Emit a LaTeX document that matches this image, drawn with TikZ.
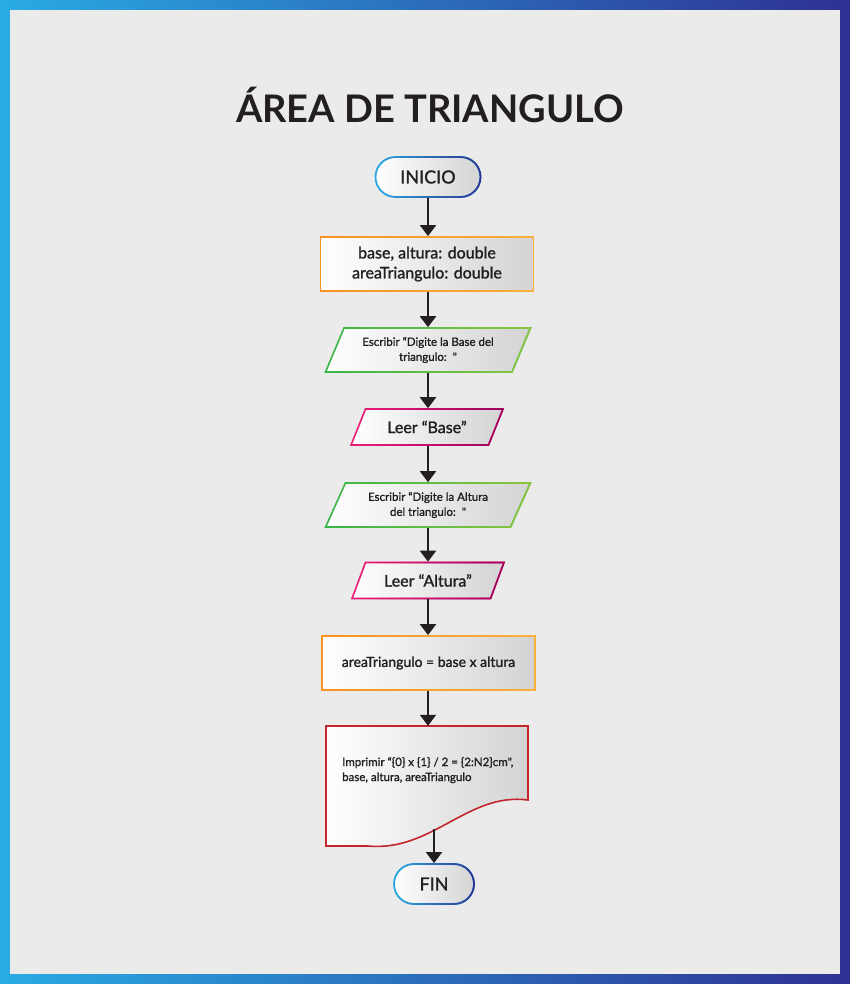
\documentclass[tikz,border=0pt]{standalone}
\usepackage{fontspec}
\setmainfont{Lato}
\newfontface\medfont{Lato}[FakeBold=1.4]
\usetikzlibrary{arrows.meta,shapes.geometric,fadings}
\definecolor{frameL}{HTML}{29ABE2}
\definecolor{frameR}{HTML}{2E3192}
\definecolor{paper}{HTML}{EBEBEB}
\definecolor{ink}{HTML}{231F20}
\definecolor{blueL}{HTML}{29ABE2}
\definecolor{blueR}{HTML}{2E3192}
\definecolor{orangeL}{HTML}{F7931E}
\definecolor{orangeR}{HTML}{FBB03B}
\definecolor{greenL}{HTML}{39B54A}
\definecolor{greenR}{HTML}{8CC63F}
\definecolor{pinkL}{HTML}{ED1E79}
\definecolor{pinkR}{HTML}{9E005D}
\definecolor{docred}{HTML}{C1272D}
\tikzfading[name=fadeinright, left color=transparent!100, right color=transparent!0]
\tikzset{
  boxfill/.style={left color=white, right color=black!17},
  gborder/.style 2 args={draw=#1, postaction={draw=#2, path fading=fadeinright}},
  term/.style={shape=rectangle, rounded corners=20pt, gborder={blueL}{blueR}, line width=1.8pt, boxfill,
    minimum height=40pt, text=ink, font=\medfont\fontsize{18}{20}\selectfont},
  decl/.style={shape=rectangle, gborder={orangeL}{orangeR}, line width=1.8pt, boxfill,
    minimum width=213pt, minimum height=54pt, text=ink, align=center},
  outpar/.style={shape=trapezium, trapezium left angle=65, trapezium right angle=115,
    trapezium stretches=true, gborder={greenL}{greenR}, line width=1.6pt, boxfill,
    minimum width=205pt, minimum height=44pt, text=ink, align=center,
    font=\medfont\fontsize{11.5}{15}\selectfont},
  inpar/.style={shape=trapezium, trapezium left angle=62, trapezium right angle=118,
    trapezium stretches=true, gborder={pinkL}{pinkR}, line width=1.6pt, boxfill,
    minimum width=152pt, minimum height=36pt, text=ink, font=\medfont\fontsize{16}{18}\selectfont},
  arr/.style={draw=ink, line width=2pt, -{Triangle[width=16pt,length=11pt]}},
}
\begin{document}
\begin{tikzpicture}[x=1pt,y=-1pt]
\useasboundingbox (0,0) rectangle (850,984);
\shade[left color=frameL, right color=frameR] (0,0) rectangle (850,984);
\fill[paper] (10,10) rectangle (840,974);

\node[name=title, text=ink, font=\fontsize{38}{40}\selectfont\bfseries] at (430,105) {ÁREA DE TRIANGULO};

\node[term, minimum width=105pt, name=inicio] at (428,177) {INICIO};
\node[decl, name=vars, font=\medfont\fontsize{16}{20}\selectfont] at (427,264) {base, altura: double\\areaTriangulo: double};
\node[outpar, name=out1] at (428,350) {Escribir “Digite la Base del\\triangulo:\ \ "};
\node[inpar, name=in1] at (427,427) {Leer “Base”};
\node[outpar, name=out2] at (428,505) {Escribir “Digite la Altura\\del triangulo:\ \ "};
\node[inpar, name=in2] at (428,580.5) {Leer “Altura”};
\node[decl, name=calc, font=\medfont\fontsize{14}{18}\selectfont] at (428.5,663) {areaTriangulo = base x altura};

\path[boxfill, draw=docred, line width=1.6pt]
  (326,726) -- (528,726) -- (528,800)
  .. controls (468,792) and (432,852) .. (368,846) -- (326,846) -- cycle;
\node[name=doc, shape=rectangle, minimum width=202pt, minimum height=120pt] at (427,786) {};
\node[name=doctext, anchor=north west, align=left, text=ink, font=\medfont\fontsize{11.5}{15}\selectfont, inner sep=0pt]
  at (342,757) {Imprimir “\{0\} x \{1\} / 2 = \{2:N2\}cm",\\base, altura, areaTriangulo};
\coordinate (docb) at (434,829);

\node[term, minimum width=80pt, name=fin] at (434,884) {FIN};

\draw[arr] (inicio.south) -- (inicio.south |- vars.north);
\draw[arr] (vars.south -| inicio) -- (out1.north -| inicio);
\draw[arr] (out1.south -| inicio) -- (in1.north -| inicio);
\draw[arr] (in1.south -| inicio) -- (out2.north -| inicio);
\draw[arr] (out2.south -| inicio) -- (in2.north -| inicio);
\draw[arr] (in2.south -| inicio) -- (calc.north -| inicio);
\draw[arr] (calc.south -| inicio) -- (doc.north -| inicio);
\draw[arr] (docb) -- (fin.north);
\end{tikzpicture}
\end{document}
